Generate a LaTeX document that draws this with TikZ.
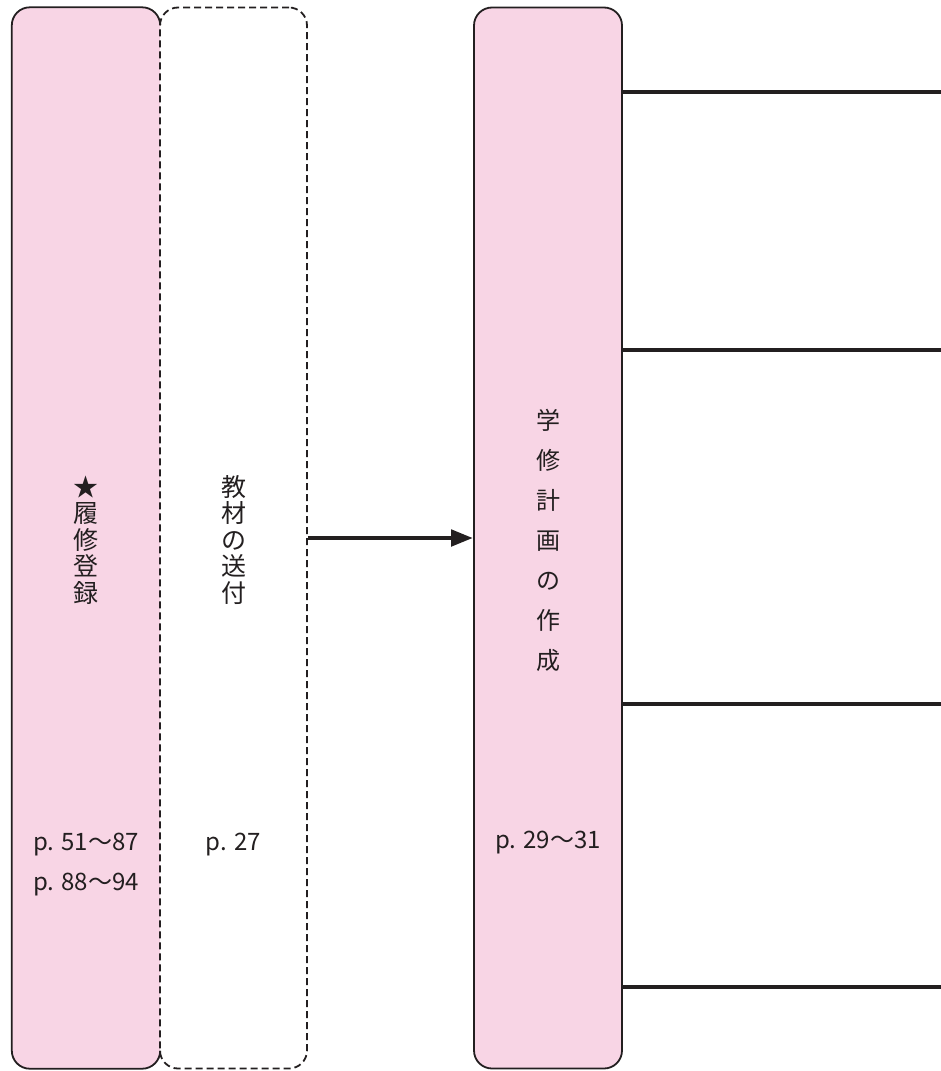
\documentclass[tikz,border=0pt]{standalone}
\usepackage{fontspec}
\setmainfont{Noto Sans CJK JP}
\usetikzlibrary{positioning}
\usetikzlibrary{arrows.meta}
\definecolor{boxpink}{HTML}{F8D5E5}
\definecolor{ink}{HTML}{231F20}

\begin{document}
\begin{tikzpicture}[x=1pt, y=-1pt, >={Triangle[length=22pt,width=16pt]},
    pinkbox/.style={fill=boxpink, rounded corners=18pt, minimum width=148pt, minimum height=1061pt, inner sep=0pt},
    dashbox/.style={draw=ink, line width=1.8pt, dash pattern=on 7pt off 4pt, rounded corners=18pt, minimum width=147pt, minimum height=1061pt, inner sep=0pt},
    vtext/.style={text=ink, align=center, font=\fontsize{25}{26.5}\selectfont},
    ptext/.style={text=ink, align=center, font=\fontsize{24}{40}\selectfont}]
    \useasboundingbox (0,0) rectangle (941,1071);
    \node[pinkbox] (reg) at (86,538) {};
    \node[dashbox] (ship) at (233.5,538) {};
    \node[pinkbox, draw=ink, line width=1.8pt] (plan) at (548,538) {};
    \draw[ink, line width=1.8pt, rounded corners=18pt] ([yshift=-18pt]reg.north east) |- (reg.north west) |- (reg.south east) -- ([yshift=18pt]reg.south east);
    % vertical titles
    \node[vtext] (regname) at (86,540) {★\\履\\修\\登\\録};
    \node[vtext] (shipname) at (233.5,540) {教\\材\\の\\送\\付};
    \node[vtext, font=\fontsize{24}{40}\selectfont] (planname) at (548,540) {学\\修\\計\\画\\の\\作\\成};
    % page numbers
    \node[ptext] (regpage) at (86,865) {p. 51〜87\\p. 88〜94};
    \node[ptext] (shippage) at (233.5,845) {p. 27};
    \node[ptext] (planpage) at (548,843) {p. 29〜31};
    \draw[->, ink, line width=4.7pt] (ship) -- (plan);
    \foreach \y [count=\i] in {92,350,704,987} {
        \coordinate (end\i) at (941,\y);
        \draw[ink, line width=4.7pt] (plan.east |- end\i) -- (end\i);
    }
\end{tikzpicture}
\end{document}
